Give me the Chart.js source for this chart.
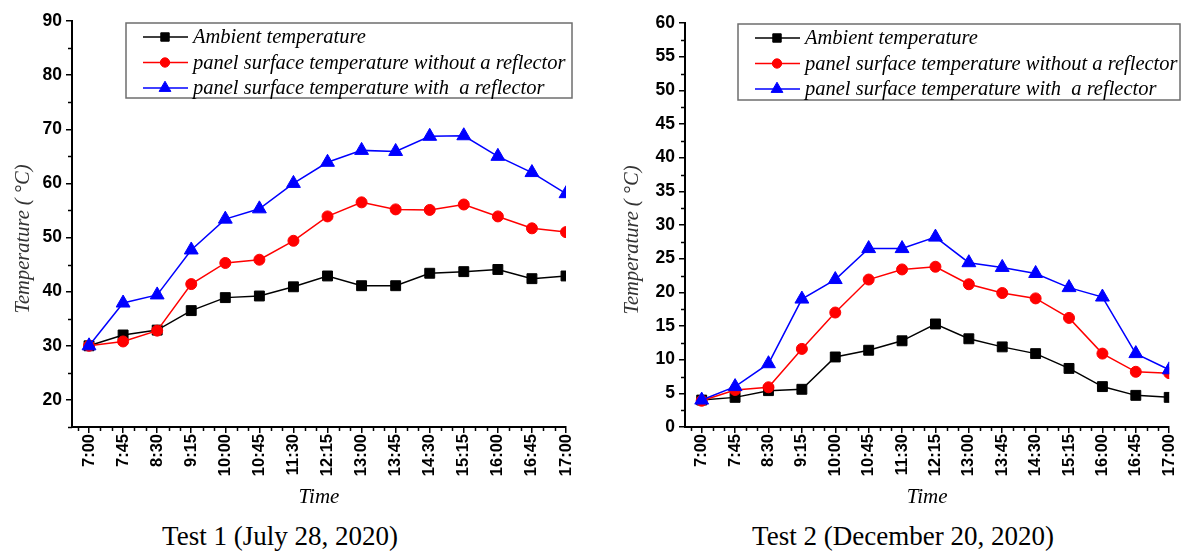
<!DOCTYPE html>
<html>
<head>
<meta charset="utf-8">
<script src="https://cdn.jsdelivr.net/npm/chart.js@4.4.1/dist/chart.umd.min.js"></script>
<style>
  html, body { margin: 0; padding: 0; background: #fff; overflow: hidden; }
  body { width: 1182px; height: 558px; position: relative; }
  .panel { position: absolute; top: 0; }
  .caption { position: absolute; top: 521px; width: 400px; text-align: center; font: 27px "Liberation Serif", serif; color: #000; }
</style>
</head>
<body>
<canvas id="chartTest1" class="panel" style="left:0" width="590" height="515"></canvas>
<canvas id="chartTest2" class="panel" style="left:590px" width="600" height="515"></canvas>
<div class="caption" style="left:80px">Test 1 (July 28, 2020)</div>
<div class="caption" style="left:703px">Test 2 (December 20, 2020)</div>
<script>
const TIMES = ['7:00', '7:45', '8:30', '9:15', '10:00', '10:45', '11:30', '12:15', '13:00', '13:45', '14:30', '15:15', '16:00', '16:45', '17:00'];
const SERIES_LABELS = ['Ambient temperature', 'panel surface temperature without a reflector', 'panel surface temperature with  a reflector'];

// Test 1 (July)
const AMBIENT_1 = [30, 32, 32.9, 36.5, 38.9, 39.2, 40.9, 42.9, 41.1, 41.1, 43.4, 43.7, 44.1, 42.4, 42.9];
const NO_REFLECTOR_1 = [30, 30.8, 32.8, 41.4, 45.3, 45.9, 49.4, 53.9, 56.5, 55.2, 55.1, 56.1, 53.9, 51.7, 51];
const REFLECTOR_1 = [30, 37.9, 39.4, 47.7, 53.4, 55.3, 60, 63.9, 66.1, 65.9, 68.7, 68.8, 65, 62, 58.1];

// Test 2 (December)
const AMBIENT_2 = [4, 4.4, 5.4, 5.6, 10.4, 11.4, 12.8, 15.3, 13.1, 11.9, 10.9, 8.7, 6, 4.7, 4.4];
const NO_REFLECTOR_2 = [3.9, 5.5, 5.9, 11.6, 17, 21.9, 23.4, 23.8, 21.2, 19.9, 19.1, 16.2, 10.9, 8.2, 8];
const REFLECTOR_2 = [4, 6, 9.4, 19, 21.9, 26.5, 26.5, 28.2, 24.4, 23.7, 22.8, 20.7, 19.3, 10.9, 8.5];

const FONT_SERIF = '"Liberation Serif", "Times New Roman", serif';
const FONT_SANS = '"Liberation Sans", Arial, sans-serif';

const minorTicks = {
  id: 'minorTicks',
  afterDraw(chart, args, o) {
    const { ctx, chartArea } = chart;
    const xs = chart.scales.x;
    const ys = chart.scales.y;
    ctx.save();
    ctx.strokeStyle = '#000';
    ctx.lineWidth = 1.5;
    for (let k = Math.ceil(xs.min * o.xDiv); k <= Math.floor(xs.max * o.xDiv); k++) {
      if (k % o.xDiv === 0) continue;
      const px = Math.round(xs.getPixelForValue(k / o.xDiv)) + 0.5;
      ctx.beginPath();
      ctx.moveTo(px, chartArea.bottom);
      ctx.lineTo(px, chartArea.bottom + 4);
      ctx.stroke();
    }
    for (let v = Math.ceil(ys.min / o.yMinor) * o.yMinor; v <= ys.max + 1e-6; v += o.yMinor) {
      const r = v / o.yMajor;
      if (Math.abs(r - Math.round(r)) < 1e-6) continue;
      const py = Math.round(ys.getPixelForValue(v)) + 0.5;
      ctx.beginPath();
      ctx.moveTo(chartArea.left, py);
      ctx.lineTo(chartArea.left - 4, py);
      ctx.stroke();
    }
    ctx.restore();
  },
};

const boxLegend = {
  id: 'boxLegend',
  afterDraw(chart, args, o) {
    const ctx = chart.ctx;
    ctx.save();
    ctx.strokeStyle = '#6e6e6e';
    ctx.lineWidth = 1.5;
    ctx.strokeRect(o.x, o.y, o.w, o.h);
    ctx.font = 'italic 20.5px ' + FONT_SERIF;
    ctx.textBaseline = 'middle';
    ctx.textAlign = 'left';
    chart.data.datasets.forEach((ds, i) => {
      const cy = o.y + 14 + i * 25.5;
      ctx.strokeStyle = ds.borderColor;
      ctx.lineWidth = 1.5;
      ctx.beginPath();
      ctx.moveTo(o.x + 17, cy);
      ctx.lineTo(o.x + 62, cy);
      ctx.stroke();
      ctx.fillStyle = ds.backgroundColor;
      ctx.lineWidth = 1;
      Chart.helpers.drawPoint(ctx, { pointStyle: ds.pointStyle, radius: ds.pointRadius * 0.85, borderWidth: 1 }, o.x + 39, cy);
      ctx.fillStyle = '#000';
      ctx.fillText(ds.label, o.x + 67, cy + 1);
    });
    ctx.restore();
  },
};

const yTitle = {
  id: 'yTitle',
  afterDraw(chart, args, o) {
    const ctx = chart.ctx;
    ctx.save();
    ctx.translate(o.x, o.y);
    ctx.rotate(-Math.PI / 2);
    ctx.font = 'italic 20.5px ' + FONT_SERIF;
    ctx.fillStyle = '#333';
    ctx.textAlign = 'center';
    ctx.textBaseline = 'middle';
    ctx.fillText('Temperature ( °C)', 0, 0);
    ctx.restore();
  },
};

function buildDatasets(ambient, noReflector, reflector) {
  const toXY = (arr) => arr.map((v, i) => ({ x: i, y: v }));
  return [
    { label: SERIES_LABELS[0], data: toXY(ambient), borderColor: '#000', backgroundColor: '#000', pointStyle: 'rect', pointRadius: 7, order: 3 },
    { label: SERIES_LABELS[1], data: toXY(noReflector), borderColor: '#ff0000', backgroundColor: '#ff0000', pointStyle: 'circle', pointRadius: 5.5, order: 2 },
    { label: SERIES_LABELS[2], data: toXY(reflector), borderColor: '#0000ff', backgroundColor: '#0000ff', pointStyle: 'triangle', pointRadius: 8, order: 1 },
  ].map((d) => ({ ...d, borderWidth: 1.5, pointBorderWidth: 1, pointBorderColor: d.borderColor, tension: 0 }));
}

function makeChart(id, datasets, cfg) {
  return new Chart(document.getElementById(id), {
    type: 'line',
    data: { datasets },
    plugins: [minorTicks, boxLegend, yTitle],
    options: {
      responsive: false,
      animation: false,
      layout: { padding: { top: cfg.top, right: cfg.right, left: 0, bottom: 0 } },
      plugins: {
        legend: { display: false },
        tooltip: { enabled: false },
        minorTicks: { xDiv: 3, yMinor: cfg.yMinor, yMajor: cfg.yStep },
        boxLegend: cfg.legend,
        yTitle: cfg.title,
      },
      scales: {
        x: {
          type: 'linear',
          min: -0.5,
          max: TIMES.length - 1,
          afterFit: (s) => { s.height = 88; },
          border: { color: '#000', width: 2 },
          grid: { drawOnChartArea: false, drawTicks: true, tickLength: 6, color: '#000', lineWidth: 1.5 },
          ticks: {
            stepSize: 1,
            includeBounds: false,
            autoSkip: false,
            maxRotation: 90,
            minRotation: 90,
            padding: 1,
            color: '#000',
            font: { family: FONT_SANS, size: 16.5, weight: 'bold' },
            callback: (v) => TIMES[v] ?? '',
          },
          title: { display: true, text: 'Time', color: '#000', font: { family: FONT_SERIF, size: 21, style: 'italic' }, padding: { top: 2, bottom: 5 } },
        },
        y: {
          min: cfg.yMin,
          max: cfg.yMax,
          afterFit: (s) => { s.width = cfg.yWidth; },
          border: { color: '#000', width: 2 },
          grid: { drawOnChartArea: false, drawTicks: true, tickLength: 6, color: '#000', lineWidth: 1.5 },
          ticks: {
            stepSize: cfg.yStep,
            includeBounds: false,
            padding: 4,
            color: '#000',
            font: { family: FONT_SANS, size: 17.5, weight: 'bold' },
          },
        },
      },
    },
  });
}

makeChart('chartTest1', buildDatasets(AMBIENT_1, NO_REFLECTOR_1, REFLECTOR_1), {
  top: 21, right: 24, yWidth: 72, yMin: 15, yMax: 90, yStep: 10, yMinor: 5,
  legend: { x: 126, y: 23, w: 446, h: 75 },
  title: { x: 24, y: 239 },
});

makeChart('chartTest2', buildDatasets(AMBIENT_2, NO_REFLECTOR_2, REFLECTOR_2), {
  top: 23, right: 13, yWidth: 95, yMin: 0, yMax: 60, yStep: 5, yMinor: 2.5,
  legend: { x: 148, y: 24, w: 442, h: 76 },
  title: { x: 43, y: 240 },
});
</script>
</body>
</html>
